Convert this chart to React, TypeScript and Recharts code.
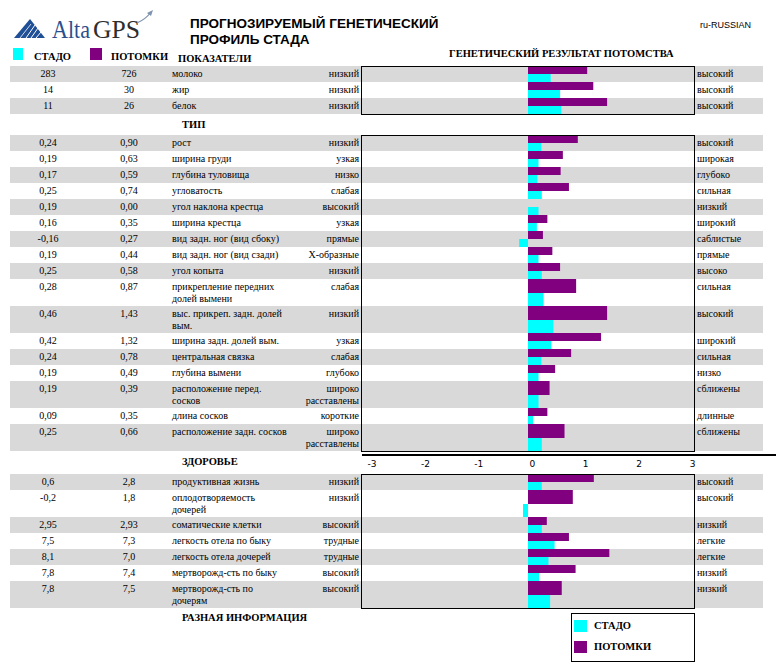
import { BarChart, Bar, XAxis, YAxis } from "recharts";

const GRAY = "#d9d9d9";
const HERD = "#00ffff";
const PROGENY = "#800080";
const SERIF = "'Liberation Serif', 'Times New Roman', serif";
const SANS = "'Liberation Sans', Arial, sans-serif";

// production
const prodNames = ["молоко", "жир", "белок"];
const prodHerd = ["283", "14", "11"];
const prodProgeny = ["726", "30", "26"];
const prodLow = ["низкий", "низкий", "низкий"];
const prodHigh = ["высокий", "высокий", "высокий"];
const prodHerdBar = [0.41, 0.58, 0.6];
const prodProgenyBar = [1.07, 1.18, 1.43];

// type
const typeNames = [
  "рост",
  "ширина груди",
  "глубина туловища",
  "угловатость",
  "угол наклона крестца",
  "ширина крестца",
  "вид задн. ног (вид сбоку)",
  "вид задн. ног (вид сзади)",
  "угол копыта",
  "прикрепление передних\nдолей вымени",
  "выс. прикреп. задн. долей\nвым.",
  "ширина задн. долей вым.",
  "центральная связка",
  "глубина вымени",
  "расположение перед.\nсосков",
  "длина сосков",
  "расположение задн. сосков",
];
const typeLow = [
  "низкий", "узкая", "низко", "слабая", "высокий", "узкая", "прямые", "Х-образные", "низкий",
  "слабая", "низкий", "узкая", "слабая", "глубоко", "широко\nрасставлены", "короткие", "широко\nрасставлены",
];
const typeHigh = [
  "высокий", "широкая", "глубоко", "сильная", "низкий", "широкий", "саблистые", "прямые", "высоко",
  "сильная", "высокий", "широкий", "сильная", "низко", "сближены", "длинные", "сближены",
];
const typeHerd = [0.24, 0.19, 0.17, 0.25, 0.19, 0.16, -0.16, 0.19, 0.25, 0.28, 0.46, 0.42, 0.24, 0.19, 0.19, 0.09, 0.25];
const typeProgeny = [0.9, 0.63, 0.59, 0.74, 0.0, 0.35, 0.27, 0.44, 0.58, 0.87, 1.43, 1.32, 0.78, 0.49, 0.39, 0.35, 0.66];

// health
const healthNames = [
  "продуктивная жизнь",
  "оплодотворяемость\nдочерей",
  "соматические клетки",
  "легкость отела по быку",
  "легкость отела дочерей",
  "мертворожд-сть по быку",
  "мертворожд-сть по\nдочерям",
];
const healthHerd = ["0,6", "-0,2", "2,95", "7,5", "8,1", "7,8", "7,8"];
const healthProgeny = ["2,8", "1,8", "2,93", "7,3", "7,0", "7,4", "7,5"];
const healthLow = ["низкий", "низкий", "высокий", "трудные", "трудные", "высокий", "высокий"];
const healthHigh = ["высокий", "высокий", "низкий", "легкие", "легкие", "низкий", "низкий"];
const healthHerdBar = [0.25, -0.09, 0.25, 0.48, 0.37, 0.2, 0.4];
const healthProgenyBar = [1.19, 0.81, 0.34, 0.74, 1.47, 0.86, 0.61];

const axisTicks = [-3, -2, -1, 0, 1, 2, 3];

const fmt = (v: number) => v.toFixed(2).replace(".", ",");

type RowData = {
  herd: string;
  progeny: string;
  name: string;
  low: string;
  high: string;
  herdBar: number;
  progenyBar: number;
};

const rowHeight = (r: RowData) => (r.name.includes("\n") || r.low.includes("\n") ? 27 : 16);

const cell: React.CSSProperties = {
  position: "absolute",
  top: 2,
  fontFamily: SERIF,
  fontSize: 10,
  lineHeight: "12px",
  whiteSpace: "pre-line",
  color: "#000",
};

function Row({ r, shade }: { r: RowData; shade: boolean }) {
  const h = rowHeight(r);
  return (
    <div style={{ position: "relative", width: 753, height: h, background: shade ? GRAY : "#fff" }}>
      <div style={{ ...cell, left: 8, width: 60, textAlign: "center" }}>{r.herd}</div>
      <div style={{ ...cell, left: 89, width: 60, textAlign: "center" }}>{r.progeny}</div>
      <div style={{ ...cell, left: 162 }}>{r.name}</div>
      <div style={{ ...cell, left: 259, width: 90, textAlign: "right" }}>{r.low}</div>
      <div style={{ position: "absolute", left: 352, top: 0 }}>
        <BarChart
          width={332}
          height={h}
          layout="vertical"
          data={[{ name: r.name, herd: r.herdBar, progeny: r.progenyBar }]}
          margin={{ top: 0, right: 0, bottom: 0, left: 0 }}
          barCategoryGap={0}
          barGap={0}
        >
          <XAxis type="number" domain={[-3, 3]} hide />
          <YAxis type="category" dataKey="name" hide />
          <Bar dataKey="progeny" fill={PROGENY} isAnimationActive={false} />
          <Bar dataKey="herd" fill={HERD} isAnimationActive={false} />
        </BarChart>
      </div>
      <div style={{ ...cell, left: 687 }}>{r.high}</div>
    </div>
  );
}

function Section({ top, rows }: { top: number; rows: RowData[] }) {
  const total = rows.reduce((s, r) => s + rowHeight(r), 0);
  return (
    <>
      <div style={{ position: "absolute", left: 10, top }}>
        {rows.map((r, i) => (
          <Row key={i} r={r} shade={i % 2 === 0} />
        ))}
      </div>
      <div
        style={{
          position: "absolute",
          left: 361,
          top,
          width: 334,
          height: total + 1,
          border: "1.5px solid #000",
          boxSizing: "border-box",
          pointerEvents: "none",
        }}
      />
    </>
  );
}

const build = (
  names: string[], herd: string[], progeny: string[], low: string[], high: string[], hb: number[], pb: number[]
): RowData[] =>
  names.map((name, i) => ({
    name,
    herd: herd[i],
    progeny: progeny[i],
    low: low[i],
    high: high[i],
    herdBar: hb[i],
    progenyBar: pb[i],
  }));

const bold: React.CSSProperties = {
  position: "absolute",
  fontFamily: SERIF,
  fontSize: 10.5,
  fontWeight: "bold",
  lineHeight: "12px",
  whiteSpace: "nowrap",
};

function Logo() {
  return (
    <svg width={160} height={45} style={{ position: "absolute", left: 0, top: 5 }}>
      <polygon points="14,33 45,33 30,14" fill="#1f4f96" />
      <line x1="26" y1="33" x2="35" y2="20" stroke="#fff" strokeWidth={1} />
      <line x1="31" y1="33" x2="38" y2="23" stroke="#fff" strokeWidth={1} />
      <line x1="36" y1="33" x2="41" y2="27" stroke="#fff" strokeWidth={1} />
      <line x1="20" y1="33" x2="31" y2="19" stroke="#fff" strokeWidth={0.8} />
      <text x={52} y={33} fontFamily={SERIF} fontSize={25} fill="#2b4f8e" textLength={38} lengthAdjust="spacingAndGlyphs">
        Alta
      </text>
      <text x={93} y={33} fontFamily={SERIF} fontSize={25} fill="#2e2e2e" textLength={47} lengthAdjust="spacingAndGlyphs">
        GPS
      </text>
      <path d="M137,18 Q146,14 151,7" stroke="#7f93b0" strokeWidth={1.2} fill="none" />
      <polygon points="147,8 153,5 151,11" fill="#7f93b0" />
    </svg>
  );
}

export default function App() {
  const prodRows = build(prodNames, prodHerd, prodProgeny, prodLow, prodHigh, prodHerdBar, prodProgenyBar);
  const typeRows = build(
    typeNames,
    typeHerd.map(fmt),
    typeProgeny.map(fmt),
    typeLow,
    typeHigh,
    typeHerd,
    typeProgeny
  );
  const healthRows = build(healthNames, healthHerd, healthProgeny, healthLow, healthHigh, healthHerdBar, healthProgenyBar);

  return (
    <div style={{ position: "absolute", left: 0, top: 0, width: 776, height: 671, background: "#fff", overflow: "hidden" }}>
      <Logo />
      <div
        style={{
          position: "absolute",
          left: 190,
          top: 16,
          fontFamily: SANS,
          fontWeight: "bold",
          fontSize: 13.5,
          lineHeight: "16px",
        }}
      >
        ПРОГНОЗИРУЕМЫЙ ГЕНЕТИЧЕСКИЙ
        <br />
        ПРОФИЛЬ СТАДА
      </div>
      <div style={{ position: "absolute", left: 700, top: 20, fontFamily: SANS, fontSize: 9 }}>ru-RUSSIAN</div>

      <div style={{ position: "absolute", left: 13, top: 48, width: 10, height: 12, background: HERD }} />
      <div style={{ ...bold, left: 34, top: 51 }}>СТАДО</div>
      <div style={{ position: "absolute", left: 90, top: 48, width: 12, height: 12, background: PROGENY }} />
      <div style={{ ...bold, left: 111, top: 51 }}>ПОТОМКИ</div>
      <div style={{ ...bold, left: 178, top: 53 }}>ПОКАЗАТЕЛИ</div>
      <div style={{ ...bold, left: 449, top: 48 }}>ГЕНЕТИЧЕСКИЙ РЕЗУЛЬТАТ ПОТОМСТВА</div>

      <Section top={66} rows={prodRows} />

      <div style={{ ...bold, left: 182, top: 119 }}>ТИП</div>
      <Section top={135} rows={typeRows} />

      <div style={{ position: "absolute", left: 362, top: 454, width: 414, height: 1.5, background: "#000" }} />
      <div style={{ position: "absolute", left: 361.5, top: 455 }}>
        <BarChart
          width={340.5}
          height={20}
          layout="vertical"
          data={[{ name: "", v: 0 }]}
          margin={{ top: 0, right: 10, bottom: 0, left: 10 }}
        >
          <XAxis
            type="number"
            domain={[-3, 3]}
            ticks={axisTicks}
            interval={0}
            axisLine={false}
            tickLine={false}
            tickSize={0}
            tickMargin={4}
            height={18}
            tick={{ fill: "#000", fontSize: 9, fontFamily: "'DejaVu Sans', sans-serif" }}
          />
          <YAxis type="category" dataKey="name" hide />
          <Bar dataKey="v" fill="none" isAnimationActive={false} />
        </BarChart>
      </div>

      <div style={{ ...bold, left: 182, top: 456 }}>ЗДОРОВЬЕ</div>
      <Section top={474} rows={healthRows} />

      <div style={{ ...bold, left: 182, top: 612 }}>РАЗНАЯ ИНФОРМАЦИЯ</div>

      <div
        style={{
          position: "absolute",
          left: 571,
          top: 613,
          width: 124,
          height: 49,
          border: "1.5px solid #000",
          boxSizing: "border-box",
        }}
      >
        <div style={{ position: "absolute", left: 2, top: 6, width: 13, height: 12, background: HERD }} />
        <div style={{ ...bold, left: 22, top: 6 }}>СТАДО</div>
        <div style={{ position: "absolute", left: 2, top: 27, width: 13, height: 12, background: PROGENY }} />
        <div style={{ ...bold, left: 22, top: 27 }}>ПОТОМКИ</div>
      </div>
    </div>
  );
}
